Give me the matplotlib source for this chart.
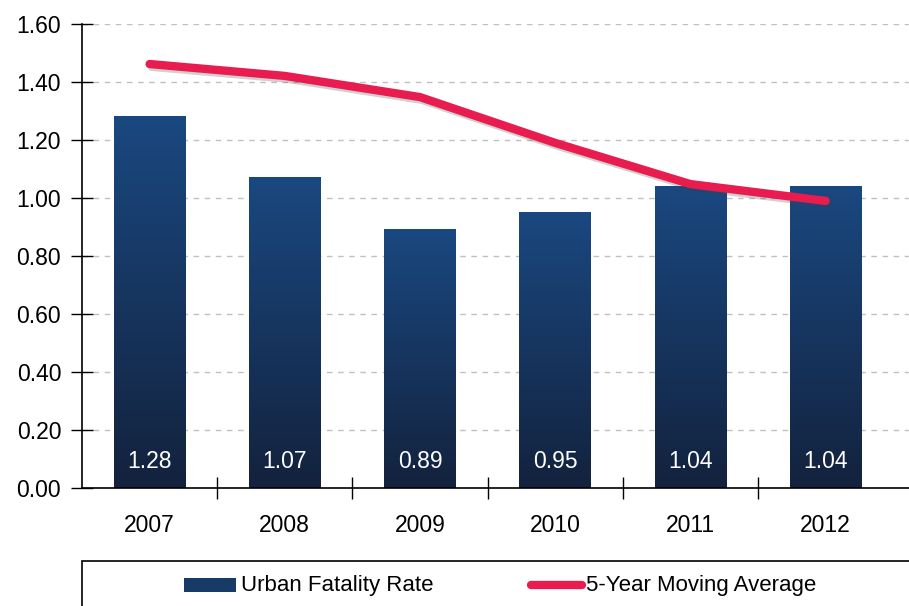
import matplotlib
matplotlib.use("Agg")
import matplotlib.pyplot as plt
import matplotlib.patheffects as pe
from matplotlib.patches import Rectangle
from matplotlib.lines import Line2D
from matplotlib.colors import LinearSegmentedColormap
import numpy as np

years = ["2007", "2008", "2009", "2010", "2011", "2012"]
rate = [1.28, 1.07, 0.89, 0.95, 1.04, 1.04]
moving_avg = [1.462, 1.421, 1.348, 1.19, 1.048, 0.99]
yticks = [0.0, 0.2, 0.4, 0.6, 0.8, 1.0, 1.2, 1.4, 1.6]

plt.rcParams['font.family'] = ['Liberation Sans', 'DejaVu Sans']

W, H = 909, 606
fig = plt.figure(figsize=(W / 100, H / 100), dpi=100)
left, right = 82, 909
top, bottom = 24, 488
ax = fig.add_axes([left / W, 1 - bottom / H, (right - left) / W, (bottom - top) / H])

spacing = 135.2
x = np.arange(len(years))
ax.set_xlim(-0.5, -0.5 + (right - left) / spacing)
ax.set_ylim(0, 1.6)

cmap = LinearSegmentedColormap.from_list("bar", ["#13223d", "#1a4880"])
bw = 0.53
grad = np.linspace(0, 1, 256).reshape(-1, 1)
for xi, v in zip(x, rate):
    ax.imshow(grad, cmap=cmap, aspect='auto', origin='lower',
              extent=(xi - bw / 2, xi + bw / 2, 0, v), zorder=2)
    ax.text(xi, 0.09, f"{v:.2f}", color='white', ha='center', va='center',
            fontsize=16.5, zorder=3)

ax.plot(x, moving_avg, color='#E91C50', lw=6.0, solid_capstyle='round',
        solid_joinstyle='round', zorder=4,
        path_effects=[pe.SimpleLineShadow(offset=(1.5, -2), alpha=0.25, shadow_color='#444444'),
                      pe.Normal()])

ax.set_aspect('auto')
ax.set_yticks(yticks)
ax.set_yticklabels([f"{t:.2f}" for t in yticks], fontsize=16.5)
ax.set_xticks(x)
ax.set_xticklabels(years, fontsize=16.5)
ax.set_xticks(x[:-1] + 0.5, minor=True)
ax.tick_params(axis='x', which='major', length=0, pad=19)
ax.tick_params(axis='x', which='minor', length=16, direction='inout', width=1)
ax.tick_params(axis='y', length=16, direction='inout', width=1, pad=7)
ax.yaxis.grid(True, linestyle=(0, (4, 4)), color='#c0c0c0', lw=1)
ax.set_axisbelow(True)
for s in ['top', 'right']:
    ax.spines[s].set_visible(False)
ax.spines['left'].set_linewidth(1.2)
ax.spines['bottom'].set_linewidth(1.2)

# Legend box
fig.add_artist(Rectangle((82 / W, -0.1), 1.0, 1 - 561 / H + 0.1, transform=fig.transFigure,
                         facecolor='white', edgecolor='black', lw=1.2))
ly = 1 - 585 / H
fig.add_artist(Rectangle((184 / W, 1 - 592 / H), 52 / W, 14 / H, transform=fig.transFigure,
                         facecolor='#173a66', edgecolor='none'))
fig.text(241 / W, ly, "Urban Fatality Rate", fontsize=16, va='center', ha='left')
fig.add_artist(Line2D([531 / W, 582 / W], [ly, ly], transform=fig.transFigure,
                      color='#E91C50', lw=6.0, solid_capstyle='round'))
fig.text(586 / W, ly, "5-Year Moving Average", fontsize=16, va='center', ha='left')

fig.savefig("out.png", dpi=100)
